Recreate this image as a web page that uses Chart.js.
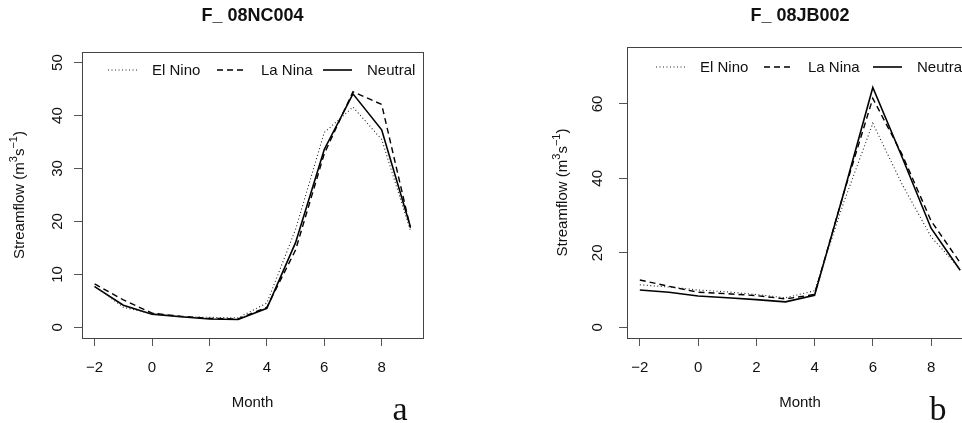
<!DOCTYPE html>
<html>
<head>
<meta charset="utf-8">
<script src="https://cdn.jsdelivr.net/npm/chart.js@4/dist/chart.umd.min.js"></script>
<style>
  html, body { margin: 0; padding: 0; background: #fff; overflow: hidden; }
  body { width: 962px; height: 423px; position: relative; }
  canvas { position: absolute; top: 0; }
  #chartA { left: 0; }
  #chartB { left: 481px; }
</style>
</head>
<body>
<canvas id="chartA" width="481" height="423"></canvas>
<canvas id="chartB" width="520" height="423"></canvas>
<script>
// months relative to the event year
const months = [-2, -1, 0, 1, 2, 3, 4, 5, 6, 7, 8, 9];
const seriesNames = ["El Nino", "La Nina", "Neutral"];
const xTicks = [-2, 0, 2, 4, 6, 8];

// station 08NC004
const elNinoA  = [7.8, 3.8, 2.6, 2.0, 1.9, 1.8, 4.6, 18.5, 36.8, 41.6, 35.5, 18.3];
const laNinaA  = [8.2, 5.2, 2.7, 2.1, 1.7, 1.6, 3.8, 14.6, 32.8, 44.5, 42.1, 18.8];
const neutralA = [7.7, 4.2, 2.5, 2.0, 1.6, 1.5, 3.6, 16.0, 33.6, 44.1, 37.3, 19.0];
const yTicksA = [0, 10, 20, 30, 40, 50];

// station 08JB002
const elNinoB  = [11.4, 10.8, 10.0, 9.5, 8.8, 7.9, 9.8, 33.5, 54.8, 38.5, 24.3, 15.6];
const laNinaB  = [12.7, 11.0, 9.4, 9.0, 8.5, 7.6, 8.8, 36.0, 61.5, 46.5, 28.6, 17.3];
const neutralB = [10.0, 9.4, 8.4, 7.9, 7.4, 6.8, 8.6, 36.0, 64.4, 45.8, 26.6, 15.3];
const yTicksB = [0, 20, 40, 60];

const lineStyles = [
    {dash: [1, 2.5], width: 1.1, color: "#222"},
    {dash: [6, 4], width: 1.4, color: "#000"},
    {dash: [], width: 1.6, color: "#000"}
];

const FONT = "'Liberation Sans', Arial, sans-serif";
const fmt = v => v < 0 ? "\u2212" + Math.abs(v) : String(v);

/* ===== R-style frame, labels and legend ===== */
const rFrame = {
    id: "rframe",
    afterDraw(chart, args, o) {
        const ctx = chart.ctx;
        const a = chart.chartArea;
        const xs = chart.scales.x, ys = chart.scales.y;
        ctx.save();

        // box
        ctx.strokeStyle = "#444";
        ctx.lineWidth = 1;
        ctx.strokeRect(Math.round(a.left) + 0.5, Math.round(a.top) + 0.5,
            Math.round(a.right - a.left), Math.round(a.bottom - a.top));

        ctx.fillStyle = "#111";
        ctx.font = "15px " + FONT;

        // x tick labels
        ctx.textAlign = "center";
        ctx.textBaseline = "middle";
        xs.ticks.forEach(t => ctx.fillText(fmt(t.value), xs.getPixelForValue(t.value), 368));

        // y tick labels, rotated
        ys.ticks.forEach(t => {
            ctx.save();
            ctx.translate(o.yLabelX, ys.getPixelForValue(t.value));
            ctx.rotate(-Math.PI / 2);
            ctx.fillText(fmt(t.value), 0, 0);
            ctx.restore();
        });

        // x title
        const cx = (a.left + a.right) / 2;
        ctx.fillText("Month", cx, 403);

        // y title with superscripts
        const parts = [["Streamflow (m", 15, 0], ["3", 11, -6], ["s", 15, 0], ["\u22121", 11, -6], [")", 15, 0]];
        let total = 0;
        parts.forEach(p => { ctx.font = p[1] + "px " + FONT; total += ctx.measureText(p[0]).width; });
        ctx.save();
        ctx.translate(o.yTitleX, (a.top + a.bottom) / 2);
        ctx.rotate(-Math.PI / 2);
        ctx.textAlign = "left";
        let px = -total / 2;
        parts.forEach(p => {
            ctx.font = p[1] + "px " + FONT;
            ctx.fillText(p[0], px, p[2]);
            px += ctx.measureText(p[0]).width;
        });
        ctx.restore();

        // main title
        ctx.textAlign = "center";
        ctx.font = "bold 18px " + FONT;
        ctx.fillText(o.title, cx, 16);

        // panel letter
        ctx.font = "34px 'Liberation Serif', 'Times New Roman', serif";
        ctx.textBaseline = "alphabetic";
        ctx.fillText(o.letter, o.letterX, 420);

        // legend
        ctx.font = "15px " + FONT;
        ctx.textAlign = "left";
        ctx.textBaseline = "middle";
        seriesNames.forEach((name, i) => {
            const s = lineStyles[i];
            const lx = o.legendX[i];
            ctx.beginPath();
            ctx.setLineDash(s.dash);
            ctx.lineWidth = s.width;
            ctx.strokeStyle = s.color;
            ctx.moveTo(lx, o.legendY);
            ctx.lineTo(lx + 29, o.legendY);
            ctx.stroke();
            ctx.setLineDash([]);
            ctx.fillText(name, lx + 44, o.legendY + 1);
        });

        ctx.restore();
    }
};

function makePanel(canvasId, values, yTicks, yMin, yMax, geo, frame) {
    const el = document.getElementById(canvasId);
    if (!el) return;
    new Chart(el.getContext("2d"), {
        type: "line",
        data: {
            datasets: values.map((vals, i) => ({
                label: seriesNames[i],
                data: months.map((m, k) => ({x: m, y: vals[k]})),
                borderColor: lineStyles[i].color,
                borderWidth: lineStyles[i].width,
                borderDash: lineStyles[i].dash,
                pointRadius: 0,
                tension: 0,
                fill: false
            }))
        },
        options: {
            responsive: false,
            animation: false,
            devicePixelRatio: 1,
            layout: {padding: {left: 0, top: geo.top, right: geo.right, bottom: 0}},
            plugins: {
                legend: {display: false},
                tooltip: {enabled: false},
                rframe: frame
            },
            scales: {
                x: {
                    type: "linear",
                    min: -2.44, max: 9.44,
                    afterBuildTicks: s => { s.ticks = xTicks.map(v => ({value: v})); },
                    afterFit: s => { s.height = 85; },
                    ticks: {display: false},
                    border: {display: false},
                    grid: {drawOnChartArea: false, drawTicks: true, tickLength: 8, color: "#555"}
                },
                y: {
                    min: yMin, max: yMax,
                    afterBuildTicks: s => { s.ticks = yTicks.map(v => ({value: v})); },
                    afterFit: s => { s.width = geo.left; },
                    ticks: {display: false},
                    border: {display: false},
                    grid: {drawOnChartArea: false, drawTicks: true, tickLength: 8, color: "#555"}
                }
            }
        },
        plugins: [rFrame]
    });
}

makePanel("chartA", [elNinoA, laNinaA, neutralA], yTicksA, -2, 52,
    {left: 82, top: 52, right: 58},
    {title: "F_ 08NC004", letter: "a", letterX: 400, yLabelX: 58, yTitleX: 20,
     legendX: [108, 217, 323], legendY: 70});

makePanel("chartB", [elNinoB, laNinaB, neutralB], yTicksB, -2.9, 75.3,
    {left: 146, top: 47, right: 28},
    {title: "F_ 08JB002", letter: "b", letterX: 457, yLabelX: 117, yTitleX: 82,
     legendX: [175, 283, 392], legendY: 67});
</script>
</body>
</html>
